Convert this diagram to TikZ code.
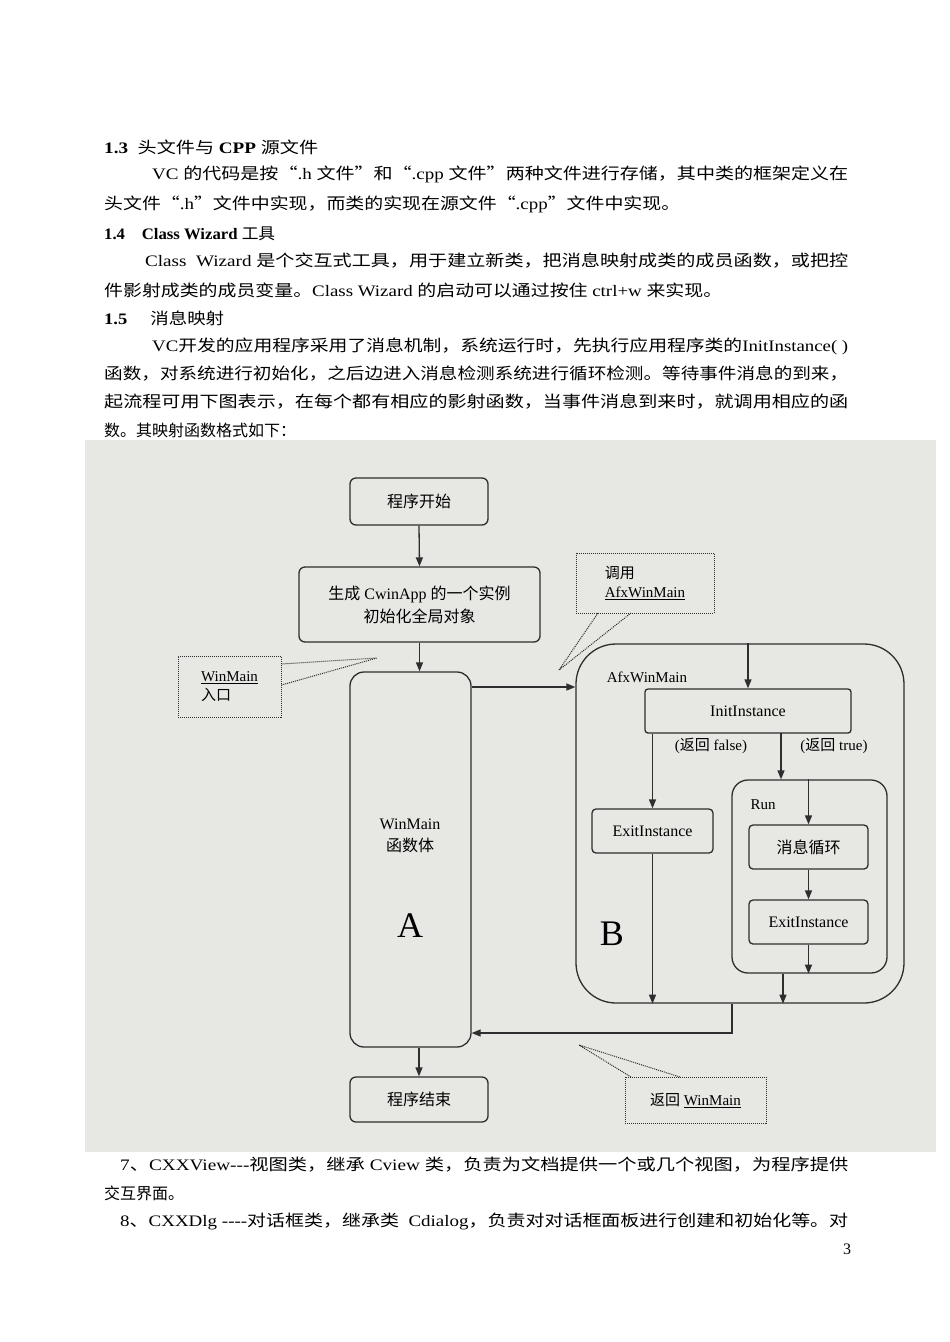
\documentclass[tikz,border=0pt]{standalone}
\usepackage{fontspec}
\usepackage{graphicx}
\setmainfont{Liberation Serif}
\newfontfamily\cj{Noto Sans CJK SC}
\usetikzlibrary{arrows.meta}
\newcommand{\jl}[2]{\resizebox{#1pt}{\height}{#2}}
\definecolor{ink}{HTML}{2E2E2E}
\definecolor{scan}{HTML}{E7E7E3}
\tikzset{
 txt/.style={anchor=west,inner sep=0pt,font=\fontsize{16}{16}\selectfont},
 box/.style={draw=ink,line width=1.3pt,rounded corners=6pt,fill=scan,align=center,font=\fontsize{16}{21}\selectfont,inner sep=2pt},
 arr/.style={draw=ink,line width=1.3pt,-{Triangle[length=9pt,width=7pt]}},
 ln/.style={draw=ink,line width=1.3pt},
 dot/.style={draw=ink,line width=1pt,densely dotted},
 lab/.style={inner sep=0pt,font=\fontsize{15}{19}\selectfont,align=left}
}
\begin{document}
\begin{tikzpicture}[x=1pt,y=-1pt]
\useasboundingbox[fill=white] (0,0) rectangle (950,1342);
% text
\node[txt] (t1) at (104,147) {\jl{214}{\textbf{1.3}\ \ {\cj 头文件与} \textbf{CPP} {\cj 源文件}}};
\node[txt] (t2) at (152,174) {\jl{696}{VC {\cj 的代码是按“}.h {\cj 文件”和“}.cpp {\cj 文件”两种文件进行存储，其中类的框架定义在}}};
\node[txt] (t3) at (104,204) {\jl{576}{{\cj 头文件“}.h{\cj ”文件中实现，而类的实现在源文件“}.cpp{\cj ”文件中实现。}}};
\node[txt] (t4) at (104,234) {\jl{171}{\textbf{1.4\quad Class Wizard} {\cj 工具}}};
\node[txt] (t5) at (145,261) {\jl{703}{Class\ \ Wizard {\cj 是个交互式工具，用于建立新类，把消息映射成类的成员函数，或把控}}};
\node[txt] (t6) at (104,290) {\jl{618}{{\cj 件影射成类的成员变量。}Class Wizard {\cj 的启动可以通过按住} ctrl+w {\cj 来实现。}}};
\node[txt] (t7) at (104,318) {\jl{120}{\textbf{1.5}\quad\ {\cj 消息映射}}};
\node[txt] (t8) at (152,346) {\jl{696}{VC{\cj 开发的应用程序采用了消息机制，系统运行时，先执行应用程序类的}InitInstance( )}};
\node[txt] (t9) at (104,374) {\jl{744}{\cj 函数，对系统进行初始化，之后边进入消息检测系统进行循环检测。等待事件消息的到来，}};
\node[txt] (t10) at (104,402) {\jl{744}{\cj 起流程可用下图表示，在每个都有相应的影射函数，当事件消息到来时，就调用相应的函}};
\node[txt] (t11) at (104,430) {\cj 数。其映射函数格式如下：};
\node[txt] (t12) at (120,1165) {\jl{728}{7{\cj 、}CXXView{-}{-}{-}{\cj 视图类，继承} Cview {\cj 类，负责为文档提供一个或几个视图，为程序提供}}};
\node[txt] (t13) at (104,1193) {\cj 交互界面。};
\node[txt] (t14) at (120,1221) {\jl{728}{8{\cj 、}CXXDlg {-}{-}{-}{-}{\cj 对话框类，继承类}\ \ Cdialog{\cj ，负责对对话框面板进行创建和初始化等。对}}};
\node[txt] (pg) at (843,1249) {3};
% scan background
\fill[scan] (85,440) rectangle (936,1152);
% boxes
\node[box,minimum width=138pt,minimum height=47pt] (start) at (419,501.5) {\cj 程序开始};
\node[box,minimum width=241pt,minimum height=75pt] (gen) at (419.5,604.5) {{\cj 生成} CwinApp {\cj 的一个实例}\\[2pt]{\cj 初始化全局对象}};
\node[box,minimum width=121pt,minimum height=375pt,rounded corners=14pt] (A) at (410.5,859.5) {};
\node[lab,align=center,font=\fontsize{16}{22}\selectfont] (Atx) at (410,836) {WinMain\\{\cj 函数体}};
\node[inner sep=0pt,font=\fontsize{36}{36}\selectfont] (Aa) at (410,926) {A};
\node[box,minimum width=328pt,minimum height=359pt,rounded corners=40pt] (B) at (740,823.5) {};
\node[lab] (Bl) at (647,677) {AfxWinMain};
\node[inner sep=0pt,font=\fontsize{36}{36}\selectfont] (Bb) at (612,934) {B};
\node[box,minimum width=206pt,minimum height=44pt,rounded corners=3pt] (init) at (748,711) {InitInstance};
\node[lab] (rf) at (711,746) {({\cj 返回} false)};
\node[lab] (rt) at (834,746) {({\cj 返回} true)};
\node[box,minimum width=121pt,minimum height=44pt,rounded corners=4pt] (exitL) at (652.5,831) {ExitInstance};
\node[box,minimum width=155pt,minimum height=193pt,rounded corners=16pt] (run) at (809.5,876.5) {};
\node[lab] (runl) at (763,805) {Run};
\node[box,minimum width=119pt,minimum height=44pt,rounded corners=4pt] (loop) at (808.5,847) {\cj 消息循环};
\node[box,minimum width=119pt,minimum height=44pt,rounded corners=4pt] (exitR) at (808.5,922) {ExitInstance};
\node[box,minimum width=138pt,minimum height=45pt] (end) at (419,1099.5) {\cj 程序结束};
% callouts
\node[dot,fill=scan,minimum width=103pt,minimum height=61pt,lab,inner sep=4pt] (c1) at (229.5,686.5) {\underline{WinMain}\\{\cj 入口}};
\node[dot,fill=scan,minimum width=138pt,minimum height=60pt,lab,inner sep=4pt] (c2) at (645,583) {{\cj 调用}\\\underline{AfxWinMain}};
\node[dot,fill=scan,minimum width=141pt,minimum height=46pt,lab,inner sep=4pt] (c3) at (695.5,1100) {{\cj 返回} \underline{WinMain}};
\coordinate (p1) at (377,658);
\coordinate (p2) at (559,670);
\coordinate (p3) at (579,1045);
\draw[dot] (c1.east |- 0,664) -- (p1) -- (c1.east |- 0,685);
\draw[dot] (598,613) -- (p2) -- (631,613);
\draw[dot] (631,1077) -- (p3) -- (680,1077);
% connectors
\draw[arr] (start.south) -- (gen.north);
\draw[arr] (gen.south) -- (A.north -| gen.south);
\draw[arr] (A.east |- 0,687) -- (B.west |- 0,687);
\draw[arr] (B.north -| init.north) -- (init.north);
\coordinate (lx) at (exitL.north);
\draw[arr] (init.south -| lx) -- (exitL.north);
\draw[arr] (exitL.south) -- (B.south -| exitL.south);
\draw[arr] (781,733) -- (run.north -| 781,0);
\draw[arr] (run.north -| loop.north) -- (loop.north);
\draw[arr] (loop.south) -- (exitR.north);
\draw[arr] (exitR.south) -- (run.south -| exitR.south);
\draw[arr] (run.south -| 783,0) -- (B.south -| 783,0);
\coordinate (r1) at (732,1033);
\draw[arr] (B.south -| r1) -- (r1) -- (A.east |- r1);
\draw[arr] (A.south -| end.north) -- (end.north);
\end{tikzpicture}
\end{document}
